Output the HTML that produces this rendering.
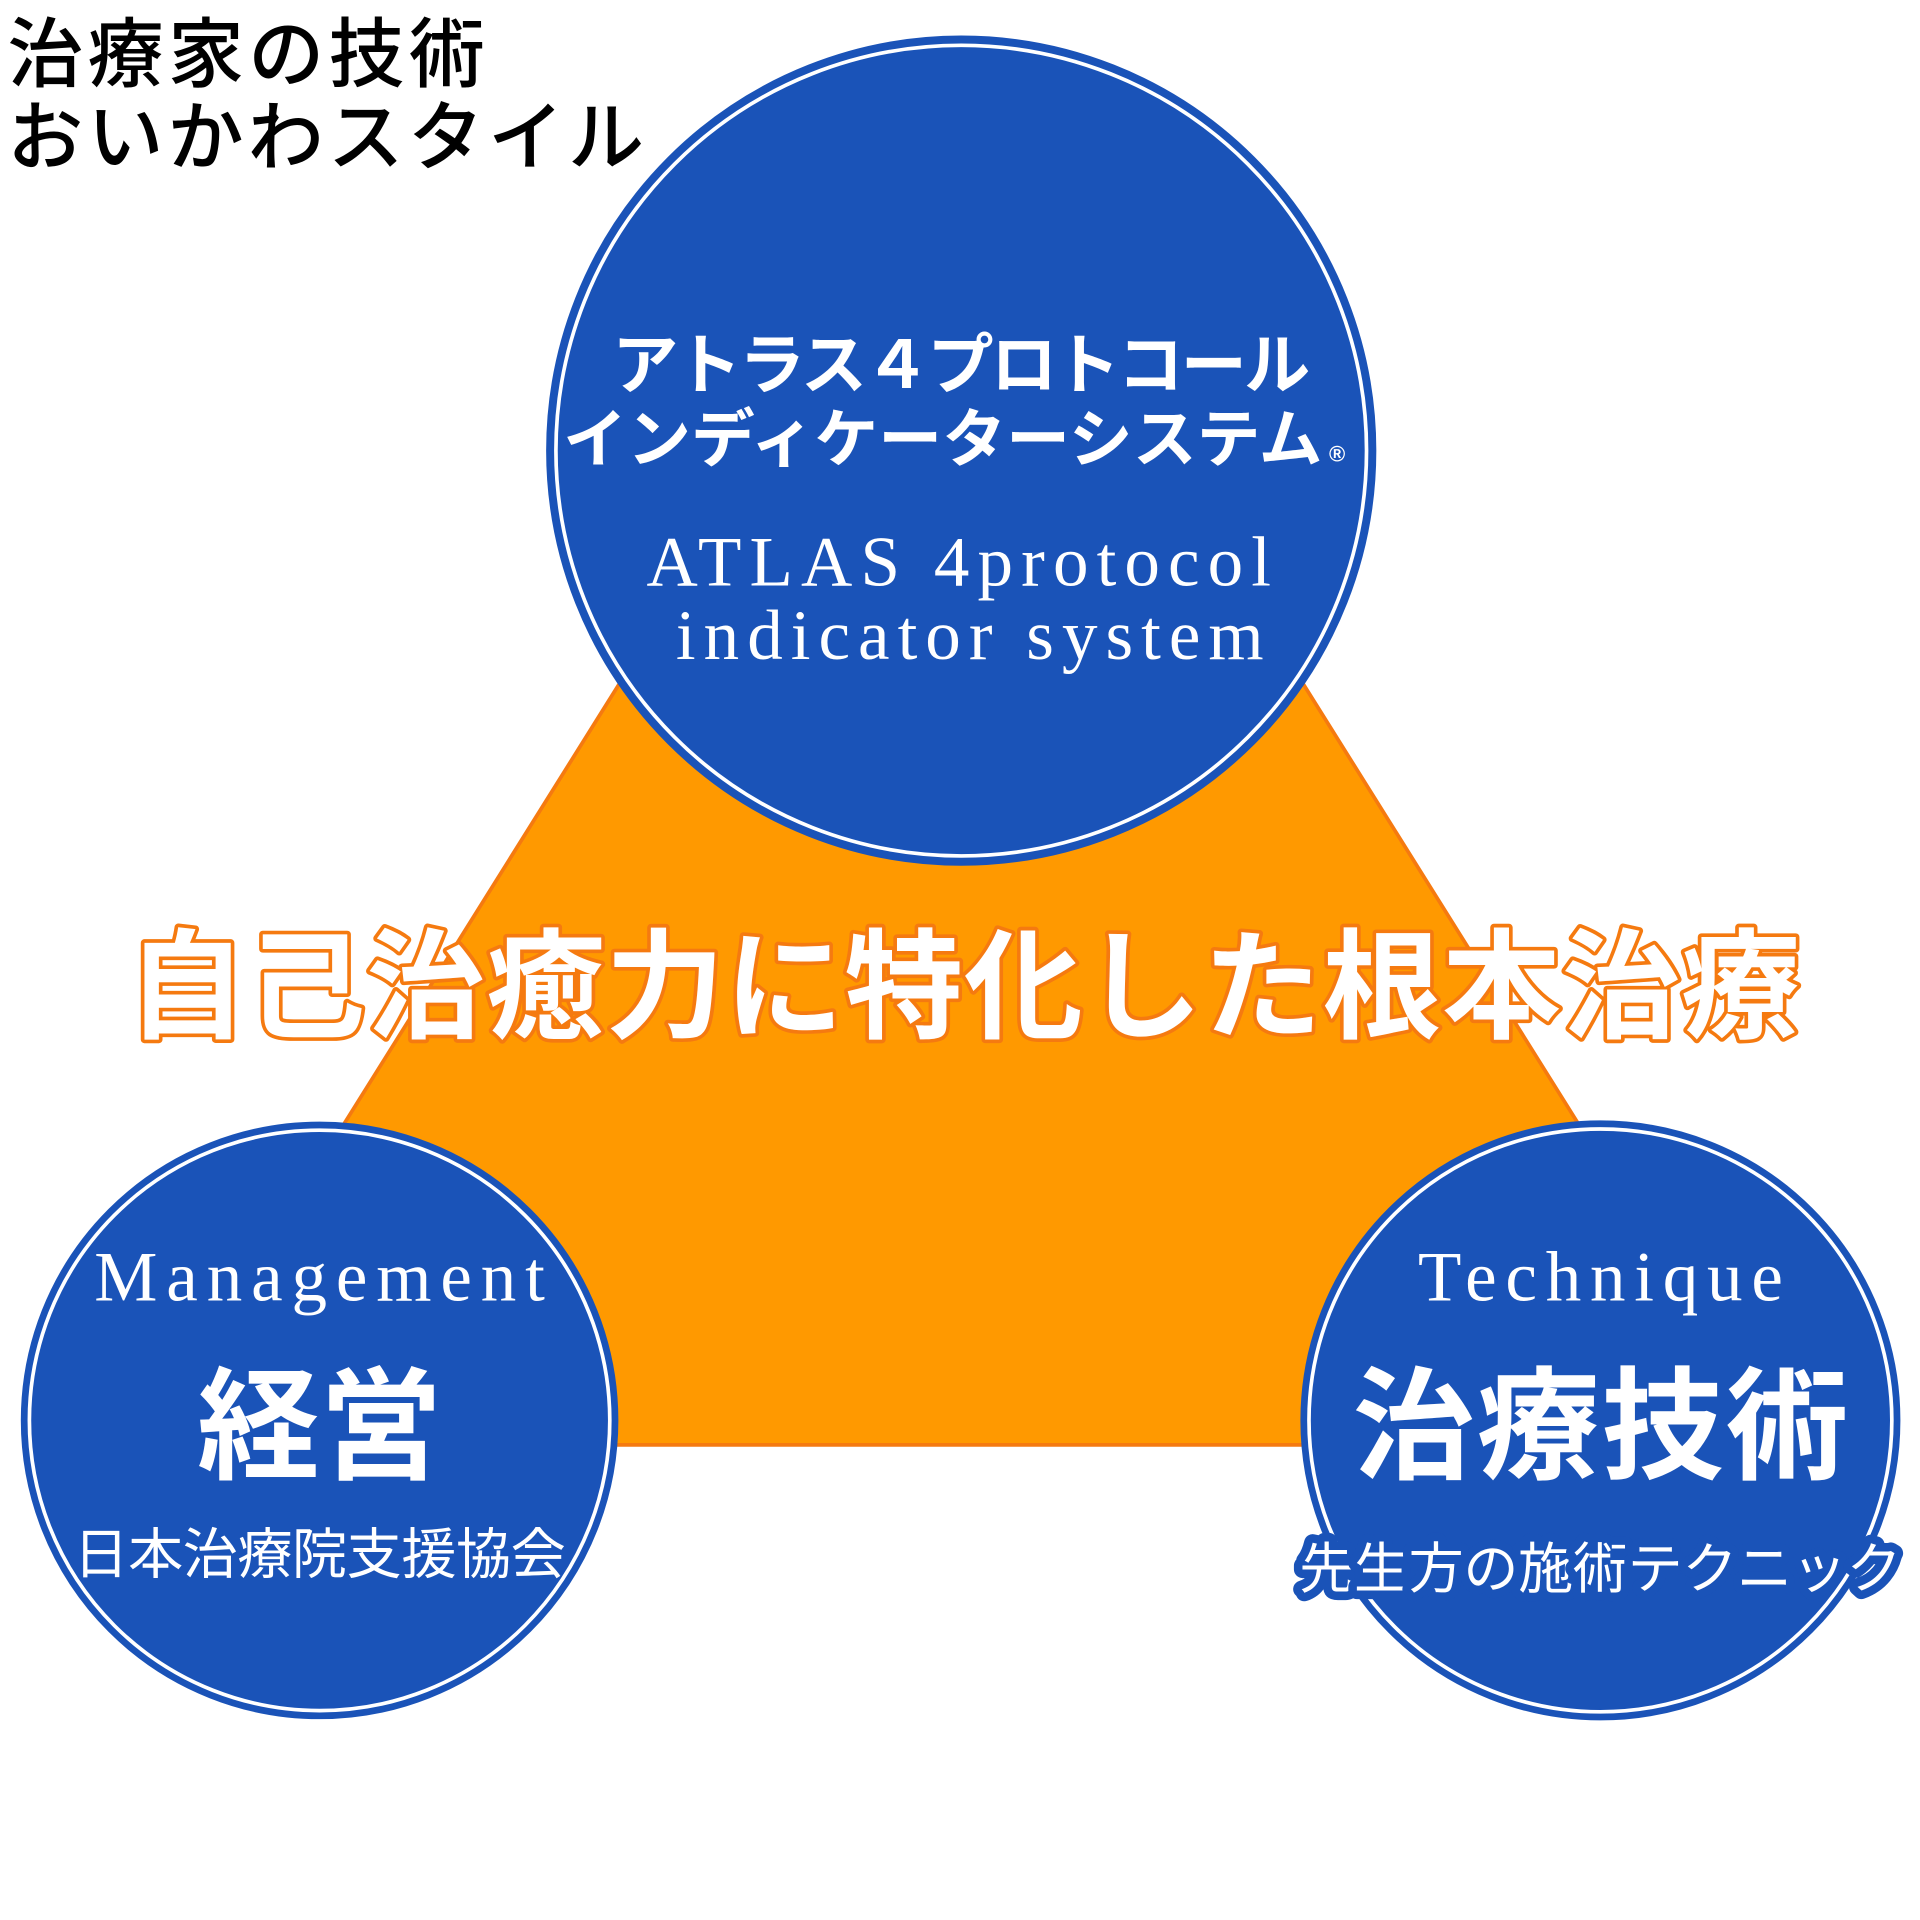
<!DOCTYPE html>
<html><head><meta charset="utf-8"><style>html,body{margin:0;padding:0;background:#fff}svg{display:block}</style></head>
<body>
<svg width="1920" height="1920" viewBox="0 0 1568 1568" xmlns="http://www.w3.org/2000/svg">
<polygon points="785,112 117,1180 1453,1180" fill="#ff9900" stroke="#f57a10" stroke-width="3"/>
<g fill="#1a53b8" stroke="#1a53b8" stroke-width="2">
<circle cx="785" cy="368" r="338"/>
<circle cx="261" cy="1160" r="243"/>
<circle cx="1307" cy="1160" r="244"/>
</g>
<g fill="none" stroke="#fff" stroke-width="3">
<circle cx="785" cy="368" r="331"/>
<circle cx="261" cy="1160" r="237"/>
<circle cx="1307" cy="1160" r="238"/>
</g>
<g font-family="'Liberation Sans','Noto Sans CJK JP',sans-serif" font-weight="500" fill="#000">
<text x="6" y="66" font-size="62" textLength="390">治療家の技術</text>
<text x="6" y="134" font-size="62" textLength="520">おいかわスタイル</text>
</g>
<g font-family="'Liberation Sans','Noto Sans CJK JP',sans-serif" font-weight="bold" fill="#fff" text-anchor="middle">
<text x="785" y="317" font-size="54" textLength="570">アトラス４プロトコール</text>
<text x="770" y="377" font-size="52" textLength="620">インディケーターシステム</text>
<text x="1092" y="377" font-size="18">®</text>
</g>
<g font-family="'Liberation Serif',serif" fill="#fff" text-anchor="middle" font-size="58">
<text x="783" y="478" textLength="510">ATLAS 4protocol</text>
<text x="792" y="538" textLength="480">indicator system</text>
<text x="261" y="1062" textLength="368">Management</text>
<text x="1307" y="1062" textLength="298">Technique</text>
</g>
<text x="787" y="840" text-anchor="middle" font-family="'Liberation Sans','Noto Sans CJK JP',sans-serif" font-weight="bold" font-size="97" textLength="1366" fill="#fff" stroke="#f57a10" stroke-width="6" paint-order="stroke" stroke-linejoin="round">自己治癒力に特化した根本治療</text>
<g font-family="'Liberation Sans','Noto Sans CJK JP',sans-serif" font-weight="bold" fill="#fff" text-anchor="middle">
<text x="261" y="1200" font-size="100">経営</text>
<text x="1307" y="1200" font-size="100" textLength="405">治療技術</text>
</g>
<g font-family="'Liberation Sans','Noto Sans CJK JP',sans-serif" fill="#fff" text-anchor="middle">
<text x="261" y="1285" font-size="45" textLength="402">日本治療院支援協会</text>
<text x="1307" y="1297" font-size="45" textLength="492" stroke="#1a53b8" stroke-width="14" paint-order="stroke" stroke-linejoin="round">先生方の施術テクニック</text>
</g>
</svg>
</body></html>
